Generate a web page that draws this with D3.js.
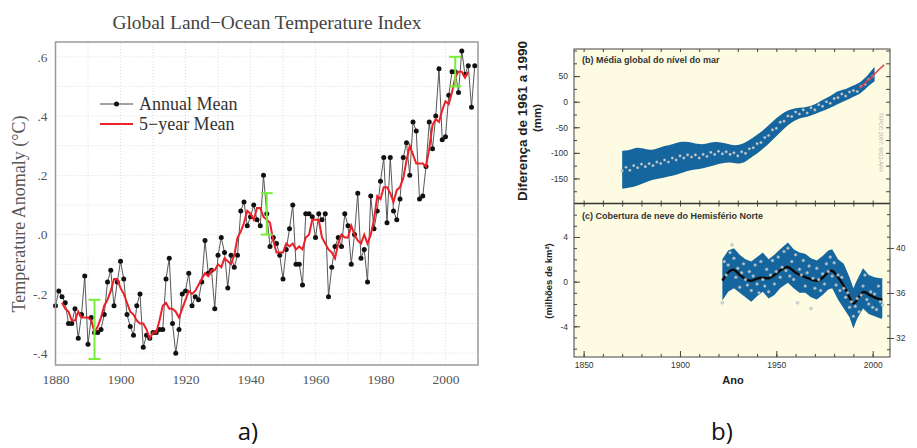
<!DOCTYPE html>
<html>
<head>
<meta charset="utf-8">
<script src="https://cdn.jsdelivr.net/npm/d3@7"></script>
<style>
  body { margin: 0; background: #fff; }
  svg { display: block; }
</style>
</head>
<body>
<svg id="chart" width="917" height="448"></svg>
<script>
// ---- a) GISS land-ocean temperature index (read off the picture) ----
var tempYears = d3.range(1880, 2010);
var tempAnnual = [
  -0.24,-0.19,-0.21,-0.23,-0.30,-0.30,-0.25,-0.35,-0.27,-0.14,
  -0.37,-0.28,-0.33,-0.33,-0.32,-0.27,-0.16,-0.12,-0.24,-0.16,
  -0.09,-0.15,-0.27,-0.31,-0.34,-0.24,-0.20,-0.38,-0.34,-0.35,
  -0.33,-0.33,-0.32,-0.32,-0.15,-0.08,-0.30,-0.40,-0.32,-0.20,
  -0.19,-0.13,-0.24,-0.21,-0.22,-0.16,-0.02,-0.13,-0.12,-0.25,
  -0.07,-0.01,-0.06,-0.18,-0.07,-0.11,-0.07,0.08,0.11,0.03,
  0.06,0.10,0.05,0.03,0.20,0.07,-0.04,-0.01,-0.03,-0.07,
  -0.15,-0.05,0.02,0.10,-0.10,-0.10,-0.17,0.07,0.07,0.06,
  -0.01,0.07,0.05,0.07,-0.21,-0.11,-0.04,-0.01,-0.04,0.07,
  0.03,-0.10,0.00,0.14,-0.08,-0.05,-0.16,0.13,0.02,0.08,
  0.18,0.26,0.04,0.26,0.08,0.05,0.12,0.26,0.31,0.20,
  0.38,0.35,0.12,0.13,0.23,0.38,0.29,0.40,0.56,0.32,
  0.33,0.47,0.55,0.55,0.48,0.62,0.54,0.57,0.43,0.57
];
var fiveYears = d3.range(1882, 2008);
var fiveMean = [
  -0.23,-0.25,-0.26,-0.29,-0.29,-0.26,-0.28,-0.28,-0.28,-0.29,
  -0.33,-0.31,-0.28,-0.24,-0.22,-0.19,-0.15,-0.15,-0.18,-0.20,
  -0.23,-0.26,-0.27,-0.29,-0.30,-0.30,-0.32,-0.35,-0.33,-0.33,
  -0.29,-0.24,-0.23,-0.25,-0.25,-0.26,-0.28,-0.25,-0.22,-0.19,
  -0.20,-0.19,-0.17,-0.15,-0.13,-0.14,-0.12,-0.12,-0.10,-0.11,
  -0.08,-0.09,-0.10,-0.07,-0.01,0.01,0.04,0.08,0.07,0.05,
  0.09,0.09,0.06,0.05,0.04,-0.02,-0.06,-0.06,-0.06,-0.03,
  -0.04,-0.03,-0.05,-0.04,-0.05,-0.01,0.00,0.05,0.05,0.05,
  -0.01,-0.03,-0.05,-0.06,-0.08,-0.03,0.00,-0.01,-0.01,0.03,
  0.00,-0.02,-0.03,0.00,-0.03,0.00,0.05,0.13,0.12,0.16,
  0.16,0.14,0.11,0.15,0.16,0.19,0.25,0.30,0.27,0.24,
  0.24,0.24,0.23,0.29,0.37,0.39,0.38,0.42,0.45,0.44,
  0.48,0.53,0.55,0.55,0.53,0.55
];
var errYears = [1892, 1945, 2003];
var errLow = [-0.42, 0.00, 0.50];
var errHigh = [-0.22, 0.14, 0.60];
var tempTicks = [0.6, 0.4, 0.2, 0.0, -0.2, -0.4];
var tempTickLabels = [".6", ".4", ".2", ".0", "-.2", "-.4"];
var yearTicksA = [1880, 1900, 1920, 1940, 1960, 1980, 2000];

// ---- b) global mean sea level (mm, difference from 1961-1990) ----
var seaBandYears = [1870,1874,1878,1882,1886,1890,1894,1898,1902,1906,1910,1914,1918,1922,1926,1930,1934,
                    1938,1942,1946,1950,1954,1958,1962,1966,1970,1974,1978,1982,1986,1990,1994,1998,2001];
var seaUpper = [-96,-95,-88,-93,-95,-88,-86,-80,-78,-79,-84,-82,-78,-80,-84,-86,-80,
                -70,-60,-46,-32,-20,-14,-12,-10,-6,4,10,22,24,32,38,54,68];
var seaLower = [-170,-168,-164,-158,-152,-150,-146,-143,-138,-133,-132,-128,-124,-120,-118,-122,-118,
                -106,-96,-82,-68,-52,-40,-32,-30,-24,-18,-12,-4,2,10,16,32,40];
var seaDotYears = d3.range(1870, 2001, 2);
var seaDots = [-135,-128,-134,-125,-129,-122,-127,-121,-125,-118,-121,-114,-118,-110,-114,-106,-110,
               -104,-108,-104,-110,-103,-107,-99,-103,-97,-102,-98,-103,-100,-106,-98,-101,-92,
               -90,-82,-80,-70,-66,-55,-52,-40,-38,-28,-29,-20,-24,-16,-22,-12,-16,-6,-9,0,-3,
               6,8,15,11,19,22,20,30,34,44,50];
var satYears = [1993, 1995, 1997, 1999, 2001, 2003, 2006];
var satLevel = [26, 32, 40, 46, 54, 62, 72];
var seaTicks = [50, 0, -50, -100, -150];

// ---- c) northern hemisphere snow cover (million km2) ----
var snowBandYears = [1922,1925,1928,1931,1934,1937,1940,1943,1946,1949,1952,1956,1959,1962,1965,
                     1968,1971,1974,1977,1979,1982,1985,1988,1990,1992,1995,1998,2001,2004,2005];
var snowUpper = [2.0,2.8,3.0,2.4,2.0,1.8,2.2,2.6,2.0,2.4,2.9,3.5,2.9,2.6,2.5,
                 2.1,1.9,2.3,2.8,2.9,2.0,1.6,0.4,-0.6,0.2,1.2,0.6,0.4,0.3,0.3];
var snowLower = [-1.7,-0.9,-0.6,-1.0,-1.4,-1.8,-1.3,-0.9,-1.5,-1.2,-0.6,-0.1,-0.6,-1.0,-1.0,
                 -1.4,-1.6,-1.2,-0.7,-0.6,-1.6,-2.4,-3.2,-4.2,-3.3,-2.4,-2.9,-3.1,-3.3,-3.3];
var snowSmooth = [0.1,0.9,1.2,0.6,0.2,0.0,0.3,0.4,0.2,0.6,1.0,1.5,0.9,0.6,0.4,
                  0.2,0.0,0.3,0.9,1.1,0.4,-0.3,-1.4,-2.2,-1.6,-0.7,-1.2,-1.4,-1.6,-1.6];
var snowDotYears = d3.range(1922, 2006);
var snowDots = [-1.9,1.8,0.6,1.5,2.6,3.3,2.1,0.4,1.2,-0.5,0.8,1.6,0.2,-0.3,0.9,-0.8,0.5,1.5,-0.2,-1.0,
                1.8,0.2,-0.4,1.1,-0.9,0.6,1.9,-0.2,0.9,2.2,0.4,1.3,2.7,1.0,3.0,0.5,1.8,0.2,2.4,-1.9,
                1.1,0.6,1.9,-0.4,0.8,1.4,-2.4,0.3,-0.6,1.2,0.2,-0.8,0.7,-0.2,1.6,0.9,2.2,0.5,1.7,-0.3,
                0.6,-0.8,0.4,-0.6,-1.4,-1.0,-2.3,-1.8,-3.1,-2.2,-1.5,-2.7,-1.2,-0.4,0.6,-1.6,-2.0,-0.9,-2.3,-1.1,
                -2.5,-0.4,-1.8,-2.1];
var snowTicks = [4, 0, -4];
var snowAreaTicks = [40, 36, 32];
var yearTicksB = [1850, 1900, 1950, 2000];

var serif = "'Liberation Serif', 'DejaVu Serif', serif";
var sans = "'Liberation Sans', Arial, sans-serif";

var svg = d3.select("#chart");

// ================= panel a =================
var xA = d3.scaleLinear().domain([1880, 2010]).range([55.5, 478]);
var yA = d3.scaleLinear().domain([-0.44, 0.65]).range([365, 42]);
var gA = svg.append("g");

// dotted grid
gA.selectAll(".vgrid")
  .data(d3.range(1890, 2010, 10))
  .enter().append("line")
  .attr("x1", function(d) { return xA(d); }).attr("x2", function(d) { return xA(d); })
  .attr("y1", yA.range()[0]).attr("y2", yA.range()[1])
  .attr("stroke", "#dcdcdc").attr("stroke-dasharray", "1,2");
gA.selectAll(".hgrid")
  .data(d3.range(-4, 7).map(function(d) { return d / 10; }))
  .enter().append("line")
  .attr("x1", xA.range()[0]).attr("x2", xA.range()[1])
  .attr("y1", function(d) { return yA(d); }).attr("y2", function(d) { return yA(d); })
  .attr("stroke", "#dcdcdc").attr("stroke-dasharray", "1,2");

gA.append("g")
  .attr("transform", "translate(" + xA.range()[0] + ",0)")
  .call(d3.axisLeft(yA).tickValues(tempTicks).tickSize(0).tickPadding(8)
    .tickFormat(function(d, i) { return tempTickLabels[i]; }))
  .call(function(g) { g.select(".domain").remove(); })
  .selectAll("text").attr("font-family", serif).attr("font-size", 13.5).attr("fill", "#555");

gA.append("g")
  .attr("transform", "translate(0," + yA.range()[0] + ")")
  .call(d3.axisBottom(xA).tickValues(yearTicksA).tickSize(0).tickPadding(9).tickFormat(d3.format("d")))
  .call(function(g) { g.select(".domain").remove(); })
  .selectAll("text").attr("font-family", serif).attr("font-size", 13.5).attr("fill", "#555");

// annual mean
var annLine = d3.line()
  .x(function(d, i) { return xA(tempYears[i]); })
  .y(function(d) { return yA(d); });
gA.append("path").datum(tempAnnual)
  .attr("d", annLine).attr("fill", "none").attr("stroke", "#444").attr("stroke-width", 0.9);
gA.selectAll(".dot")
  .data(tempAnnual)
  .enter().append("circle")
  .attr("cx", function(d, i) { return xA(tempYears[i]); })
  .attr("cy", function(d) { return yA(d); })
  .attr("r", 2.5).attr("fill", "#111");

// 5-year mean
var fiveLine = d3.line()
  .x(function(d, i) { return xA(fiveYears[i]); })
  .y(function(d) { return yA(d); });
gA.append("path").datum(fiveMean)
  .attr("d", fiveLine).attr("fill", "none").attr("stroke", "#ec2027").attr("stroke-width", 2);

// uncertainty bars
errYears.forEach(function(yr, i) {
  var x = xA(yr);
  gA.append("line").attr("x1", x).attr("x2", x)
    .attr("y1", yA(errLow[i])).attr("y2", yA(errHigh[i]))
    .attr("stroke", "#78ec3a").attr("stroke-width", 2);
  [errLow[i], errHigh[i]].forEach(function(v) {
    gA.append("line").attr("x1", x - 6).attr("x2", x + 6)
      .attr("y1", yA(v)).attr("y2", yA(v))
      .attr("stroke", "#78ec3a").attr("stroke-width", 2);
  });
});

// frame
gA.append("rect")
  .attr("x", xA.range()[0]).attr("y", yA.range()[1])
  .attr("width", xA.range()[1] - xA.range()[0]).attr("height", yA.range()[0] - yA.range()[1])
  .attr("fill", "none").attr("stroke", "#9a9a9a").attr("stroke-width", 1.5);

// legend
gA.append("line").attr("x1", 100).attr("x2", 133).attr("y1", 104).attr("y2", 104)
  .attr("stroke", "#444").attr("stroke-width", 1);
gA.append("circle").attr("cx", 116.5).attr("cy", 104).attr("r", 2.5).attr("fill", "#111");
gA.append("line").attr("x1", 100).attr("x2", 133).attr("y1", 124).attr("y2", 124)
  .attr("stroke", "#ec2027").attr("stroke-width", 2);
gA.append("text").attr("x", 139).attr("y", 110).text("Annual Mean")
  .attr("font-family", serif).attr("font-size", 18).attr("fill", "#333");
gA.append("text").attr("x", 139).attr("y", 130).text("5\u2212year Mean")
  .attr("font-family", serif).attr("font-size", 18).attr("fill", "#333");

gA.append("text").attr("x", 267).attr("y", 29).attr("text-anchor", "middle")
  .text("Global Land\u2212Ocean Temperature Index")
  .attr("font-family", serif).attr("font-size", 19.4).attr("fill", "#444");
gA.append("text")
  .attr("transform", "translate(25,214) rotate(-90)")
  .attr("text-anchor", "middle")
  .text("Temperature Anomaly (\u00b0C)")
  .attr("font-family", serif).attr("font-size", 18).attr("fill", "#555");

// ================= panel b / c =================
var xB = d3.scaleLinear().domain([1845, 2009]).range([574, 890]);
var yB = d3.scaleLinear().domain([-199, 103]).range([203.5, 49]);
var yC = d3.scaleLinear().domain([-6.75, 7.0]).range([357, 203.5]);
var yR = d3.scaleLinear().domain([30.31, 43.95]).range([357, 203.5]);
var gB = svg.append("g");
var blue = "#15669f";

gB.append("rect")
  .attr("x", xB.range()[0]).attr("y", yB.range()[1])
  .attr("width", xB.range()[1] - xB.range()[0]).attr("height", yC.range()[0] - yB.range()[1])
  .attr("fill", "#fdfbe2");

// sea level band
var seaArea = d3.area()
  .x(function(d, i) { return xB(seaBandYears[i]); })
  .y0(function(d, i) { return yB(seaLower[i]); })
  .y1(function(d) { return yB(d); })
  .curve(d3.curveBasis);
gB.append("path").datum(seaUpper).attr("d", seaArea).attr("fill", blue);

gB.selectAll(".seadot")
  .data(seaDots)
  .enter().append("circle")
  .attr("cx", function(d, i) { return xB(seaDotYears[i]); })
  .attr("cy", function(d) { return yB(d); })
  .attr("r", 1.3).attr("fill", "#c9d3d9").attr("stroke", "#7f909b").attr("stroke-width", 0.4);

var satLine = d3.line()
  .x(function(d, i) { return xB(satYears[i]); })
  .y(function(d) { return yB(d); });
gB.append("path").datum(satLevel).attr("d", satLine)
  .attr("fill", "none").attr("stroke", "#e8384a").attr("stroke-width", 1.4);

// snow band
var snowArea = d3.area()
  .x(function(d, i) { return xB(snowBandYears[i]); })
  .y0(function(d, i) { return yC(snowLower[i]); })
  .y1(function(d) { return yC(d); })
  .curve(d3.curveLinear);
gB.append("path").datum(snowUpper).attr("d", snowArea).attr("fill", blue);

var snowLine = d3.line()
  .x(function(d, i) { return xB(snowBandYears[i]); })
  .y(function(d) { return yC(d); })
  .curve(d3.curveBasis);
gB.append("path").datum(snowSmooth).attr("d", snowLine)
  .attr("fill", "none").attr("stroke", "#0a0a0a").attr("stroke-width", 2.4);

gB.selectAll(".snowdot")
  .data(snowDots)
  .enter().append("circle")
  .attr("cx", function(d, i) { return xB(snowDotYears[i]); })
  .attr("cy", function(d) { return yC(d); })
  .attr("r", 1.5).attr("fill", "#ccd6dc").attr("stroke", "#8d9ba4").attr("stroke-width", 0.4)
  .attr("opacity", 0.85);

// axes: minor ticks every 10 years, majors every 50
var minorYears = d3.range(1850, 2010, 10);
function noLabel() { return ""; }
function styleAxis(g) {
  g.select(".domain").remove();
  g.selectAll("line").attr("stroke", "#444");
  g.selectAll("text").attr("font-family", sans).attr("font-size", 8.5).attr("fill", "#333");
}
gB.append("g").attr("transform", "translate(0," + yB.range()[1] + ")")
  .call(d3.axisTop(xB).tickValues(minorYears).tickSize(-3).tickFormat(noLabel)).call(styleAxis);
gB.append("g").attr("transform", "translate(0," + yB.range()[0] + ")")
  .call(d3.axisBottom(xB).tickValues(minorYears).tickSize(-3).tickFormat(noLabel)).call(styleAxis);
gB.append("g").attr("transform", "translate(0," + yB.range()[0] + ")")
  .call(d3.axisTop(xB).tickValues(minorYears).tickSize(-3).tickFormat(noLabel)).call(styleAxis);
gB.append("g").attr("transform", "translate(0," + yC.range()[0] + ")")
  .call(d3.axisBottom(xB).tickValues(minorYears).tickSize(-3).tickFormat(noLabel)).call(styleAxis);
gB.append("g").attr("transform", "translate(0," + yC.range()[0] + ")")
  .call(d3.axisBottom(xB).tickValues(yearTicksB).tickSize(-6).tickPadding(5).tickFormat(d3.format("d")))
  .call(styleAxis);

// sea level y axes
gB.append("g").attr("transform", "translate(" + xB.range()[0] + ",0)")
  .call(d3.axisLeft(yB).tickValues(d3.range(-175, 101, 25)).tickSize(-3).tickFormat(noLabel)).call(styleAxis);
gB.append("g").attr("transform", "translate(" + xB.range()[0] + ",0)")
  .call(d3.axisLeft(yB).tickValues(seaTicks).tickSize(-6).tickPadding(6)
    .tickFormat(function(d) { return d < 0 ? "-" + Math.abs(d) : d; }))
  .call(styleAxis);
gB.append("g").attr("transform", "translate(" + xB.range()[1] + ",0)")
  .call(d3.axisRight(yB).tickValues(d3.range(-175, 101, 25)).tickSize(-4).tickFormat(noLabel)).call(styleAxis);

// snow y axes
gB.append("g").attr("transform", "translate(" + xB.range()[0] + ",0)")
  .call(d3.axisLeft(yC).tickValues(d3.range(-6, 7, 1)).tickSize(-3).tickFormat(noLabel)).call(styleAxis);
gB.append("g").attr("transform", "translate(" + xB.range()[0] + ",0)")
  .call(d3.axisLeft(yC).tickValues(snowTicks).tickSize(-6).tickPadding(6)
    .tickFormat(function(d) { return d < 0 ? "-" + Math.abs(d) : d; }))
  .call(styleAxis);
gB.append("g").attr("transform", "translate(" + xB.range()[1] + ",0)")
  .call(d3.axisRight(yR).tickValues(d3.range(31, 44, 1)).tickSize(-3).tickFormat(noLabel)).call(styleAxis);
gB.append("g").attr("transform", "translate(" + xB.range()[1] + ",0)")
  .call(d3.axisRight(yR).tickValues(snowAreaTicks).tickSize(4).tickPadding(2).tickFormat(d3.format("d")))
  .call(styleAxis);

// frames
gB.append("rect")
  .attr("x", xB.range()[0]).attr("y", yB.range()[1])
  .attr("width", xB.range()[1] - xB.range()[0]).attr("height", yC.range()[0] - yB.range()[1])
  .attr("fill", "none").attr("stroke", "#444").attr("stroke-width", 1);
gB.append("line")
  .attr("x1", xB.range()[0]).attr("x2", xB.range()[1])
  .attr("y1", yB.range()[0]).attr("y2", yB.range()[0])
  .attr("stroke", "#333").attr("stroke-width", 1.6);

// texts
gB.append("text").attr("x", 582).attr("y", 63)
  .text("(b) Média global do nível do mar")
  .attr("font-family", sans).attr("font-weight", "bold").attr("font-size", 9).attr("fill", "#333");
gB.append("text").attr("x", 582).attr("y", 219)
  .text("(c) Cobertura de neve do Hemisfério Norte")
  .attr("font-family", sans).attr("font-weight", "bold").attr("font-size", 9).attr("fill", "#333");
gB.append("text").attr("transform", "translate(879,113) rotate(90)")
  .text("\u00a9IPCC 2007: WG1-AR4")
  .attr("font-family", sans).attr("font-size", 5.5).attr("fill", "#b0b0a8");
gB.append("text").attr("transform", "translate(527,121) rotate(-90)").attr("text-anchor", "middle")
  .text("Diferença de 1961 a 1990")
  .attr("font-family", sans).attr("font-weight", "bold").attr("font-size", 13.5).attr("fill", "#222");
gB.append("text").attr("transform", "translate(541,118) rotate(-90)").attr("text-anchor", "middle")
  .text("(mm)")
  .attr("font-family", sans).attr("font-weight", "bold").attr("font-size", 11.5).attr("fill", "#222");
gB.append("text").attr("transform", "translate(552,281) rotate(-90)").attr("text-anchor", "middle")
  .text("(milhões de km²)")
  .attr("font-family", sans).attr("font-weight", "bold").attr("font-size", 9.5).attr("fill", "#222");
gB.append("text").attr("x", 733).attr("y", 384).attr("text-anchor", "middle")
  .text("Ano")
  .attr("font-family", sans).attr("font-weight", "bold").attr("font-size", 11).attr("fill", "#222");

// panel letters
svg.append("text").attr("x", 248).attr("y", 440).attr("text-anchor", "middle").text("a)")
  .attr("font-family", "'Open Sans', sans-serif").attr("font-size", 24).attr("fill", "#111");
svg.append("text").attr("x", 722).attr("y", 440).attr("text-anchor", "middle").text("b)")
  .attr("font-family", "'Open Sans', sans-serif").attr("font-size", 24).attr("fill", "#111");
</script>
</body>
</html>
